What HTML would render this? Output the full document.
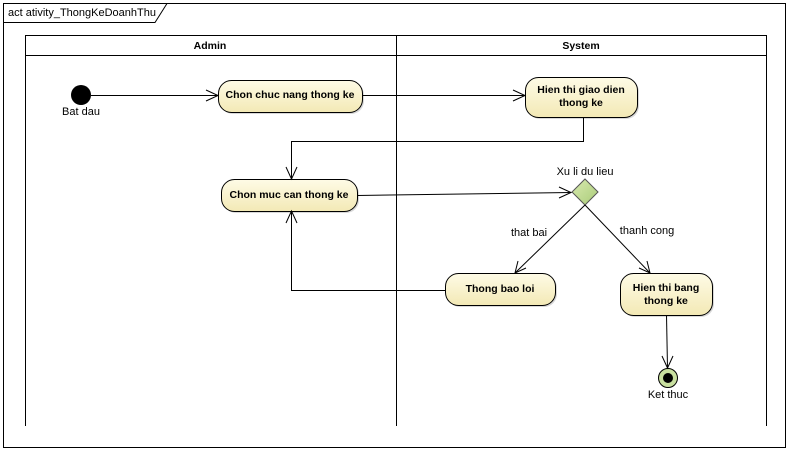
<!DOCTYPE html>
<html><head><meta charset="utf-8"><style>
html,body{margin:0;padding:0;background:#fff;}
svg{display:block;}
text{font-family:"Liberation Sans",Arial,sans-serif;font-size:11px;fill:#000;}
.b{font-weight:bold;font-size:10.5px;}
</style></head><body>
<svg width="789" height="451" viewBox="0 0 789 451" xmlns="http://www.w3.org/2000/svg">
<defs>
<linearGradient id="g" x1="0" y1="0" x2="0" y2="1">
<stop offset="0" stop-color="#fefbe6"/><stop offset="1" stop-color="#f3e9b5"/>
</linearGradient>
<linearGradient id="gd" x1="0" y1="0" x2="1" y2="1">
<stop offset="0" stop-color="#d9eab0"/><stop offset="1" stop-color="#a9cc78"/>
</linearGradient>
</defs>
<rect x="3.5" y="3.5" width="782" height="444" fill="#fff" stroke="#000"/>
<path d="M3.5 22.5 H155 L167 3.5" fill="none" stroke="#000"/>
<text x="8" y="16">act ativity_ThongKeDoanhThu</text>
<path d="M25.5 426 V35.5 H766.5 V426 M25.5 55.5 H766.5 M396.5 35.5 V426" fill="none" stroke="#000"/>
<text x="210" y="49" class="b" text-anchor="middle">Admin</text>
<text x="581" y="49" class="b" text-anchor="middle">System</text>
<g fill="#d8d8d8">
<rect x="220" y="82" width="144" height="32" rx="13"/>
<rect x="527" y="79" width="112" height="40" rx="13"/>
<rect x="223" y="181" width="136" height="32" rx="13"/>
<rect x="447" y="275" width="110" height="32" rx="13"/>
<rect x="622" y="275" width="92" height="42" rx="13"/>
</g>
<g fill="url(#g)" stroke="#000">
<rect x="218.5" y="80.5" width="144" height="32" rx="13"/>
<rect x="525.5" y="77.5" width="112" height="40" rx="13"/>
<rect x="221.5" y="179.5" width="136" height="32" rx="13"/>
<rect x="445.5" y="273.5" width="110" height="32" rx="13"/>
<rect x="620.5" y="273.5" width="92" height="42" rx="13"/>
</g>
<text x="290" y="98" class="b" text-anchor="middle">Chon chuc nang thong ke</text>
<text x="581" y="93" class="b" text-anchor="middle">Hien thi giao dien</text>
<text x="581" y="106" class="b" text-anchor="middle">thong ke</text>
<text x="289" y="198" class="b" text-anchor="middle">Chon muc can thong ke</text>
<text x="500" y="292" class="b" text-anchor="middle">Thong bao loi</text>
<text x="666" y="291" class="b" text-anchor="middle">Hien thi bang</text>
<text x="666" y="304" class="b" text-anchor="middle">thong ke</text>
<circle cx="81" cy="95" r="10" fill="#000"/>
<text x="81" y="115" text-anchor="middle">Bat dau</text>
<path d="M585 179 L598 192 L585 205 L572 192 Z" fill="url(#gd)" stroke="#555"/>
<text x="585" y="175" text-anchor="middle">Xu li du lieu</text>
<circle cx="668" cy="378" r="9.5" fill="#c9e0a0" stroke="#000"/>
<circle cx="668" cy="378" r="5" fill="#000"/>
<text x="668" y="398" text-anchor="middle">Ket thuc</text>
<g fill="none" stroke="#000">
<path d="M91 95.5 H218"/><path d="M206 90 L218 95.5 L206 101"/>
<path d="M362 95.5 H525"/><path d="M513 90 L525 95.5 L513 101"/>
<path d="M583.5 117 V141.5 H291.5 V179"/><path d="M286 167 L291.5 179 L297 167"/>
<path d="M357 195.5 L571 192.5"/><path d="M559 187 L571 192.5 L559 198"/>
<path d="M585 205 L515 273"/><path d="M518 261 L515 273 L526 268"/>
<path d="M585 205 L650 273"/><path d="M639 268 L650 273 L647 261"/>
<path d="M445 290.5 H291.5 V211"/><path d="M286 223 L291.5 211 L297 223"/>
<path d="M666.5 315 L667.5 368"/><path d="M662 356 L667.5 368 L673 356"/>
</g>
<text x="529" y="236" text-anchor="middle">that bai</text>
<text x="647" y="234" text-anchor="middle">thanh cong</text>
</svg>
</body></html>
